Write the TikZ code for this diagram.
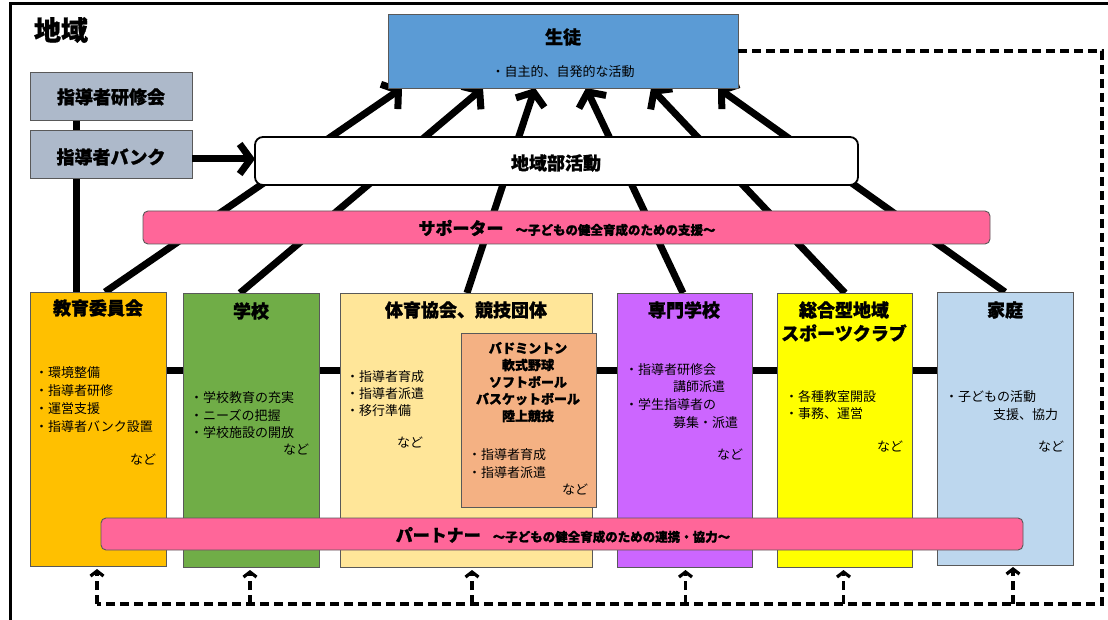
\documentclass[tikz,border=0pt]{standalone}
\usepackage{fontspec}
\setmainfont{Noto Sans CJK JP}[BoldFeatures={FakeBold=1.2}]
\usetikzlibrary{arrows.meta}
\definecolor{cSeito}{HTML}{5B9BD5}
\definecolor{cGray}{HTML}{ADB9CA}
\definecolor{cPink}{HTML}{FF6699}
\definecolor{cKyoiku}{HTML}{FFC000}
\definecolor{cGakko}{HTML}{70AD47}
\definecolor{cTaiiku}{HTML}{FFE699}
\definecolor{cKyogi}{HTML}{F4B183}
\definecolor{cSenmon}{HTML}{CC66FF}
\definecolor{cSogo}{HTML}{FFFF00}
\definecolor{cKatei}{HTML}{BDD7EE}
\definecolor{cEdge}{HTML}{595959}
\pgfdeclarelayer{background}
\pgfsetlayers{background,main}
\begin{document}
\begin{tikzpicture}[x=1pt,y=-1pt,
  box/.style={draw=cEdge, line width=0.9pt, anchor=north west, inner sep=0pt, outer sep=0pt},
  bar/.style={draw=cEdge, line width=0.9pt, fill=cPink, rounded corners=5pt, anchor=north west, inner sep=0pt, outer sep=0pt},
  thick arrow/.style={line width=7pt, -{Straight Barb[length=11pt,width=30pt]}},
  thick line/.style={line width=7pt},
  dsh/.style={line width=3.2pt, dash pattern=on 9pt off 5pt},
  dsharrow/.style={line width=3.2pt, dash pattern=on 9pt off 5pt, -{Straight Barb[length=5pt,width=13pt]}},
  tB/.style={font=\fontsize{18}{20}\selectfont\bfseries, inner sep=0pt},
  tK/.style={font=\fontsize{13}{15}\selectfont\bfseries, inner sep=0pt},
  tS/.style={font=\fontsize{13}{15}\selectfont, inner sep=0pt, anchor=west},
]
\useasboundingbox (0,0) rectangle (1108,620);
% outer frame (left and top edges visible)
\draw[line width=3pt] (10,625) -- (10,4) -- (1115,4);

% boxes
\node[box, fill=cSeito, minimum width=350pt, minimum height=74pt] (seito) at (388,14) {};
\node[box, fill=cGray, minimum width=162pt, minimum height=48pt] (kenshu) at (30,72) {};
\node[box, fill=cGray, minimum width=162pt, minimum height=48pt] (bank) at (30,130) {};
\node[box, draw=black, line width=1.8pt, fill=white, rounded corners=8pt, minimum width=603pt, minimum height=48pt] (chiiki) at (255,137) {};
\node[bar, minimum width=847pt, minimum height=33pt] (supporter) at (143,211) {};
\node[box, fill=cKyoiku, minimum width=136pt, minimum height=274pt] (kyoiku) at (30,292) {};
\node[box, fill=cGakko, minimum width=136pt, minimum height=274pt] (gakko) at (183,293) {};
\node[box, fill=cTaiiku, minimum width=252pt, minimum height=274pt] (taiiku) at (340,293) {};
\node[box, fill=cKyogi, minimum width=135pt, minimum height=174pt] (kyogi) at (461,333) {};
\node[box, fill=cSenmon, minimum width=135pt, minimum height=274pt] (senmon) at (617,293) {};
\node[box, fill=cSogo, minimum width=135pt, minimum height=274pt] (sogo) at (777,293) {};
\node[box, fill=cKatei, minimum width=136pt, minimum height=273pt] (katei) at (937,292) {};
\node[bar, minimum width=922pt, minimum height=32pt] (partner) at (101,518) {};

% connectors behind boxes
\begin{pgfonlayer}{background}
\draw[thick line] ([xshift=46pt]kenshu.south west) -- ([xshift=46pt]kyoiku.north west);
\draw[thick line] ([yshift=59pt]kyoiku.east) -- ([yshift=59pt]kyoiku.east -| katei.west);
\draw[thick arrow] ([xshift=75pt]kyoiku.north west) -- ([xshift=14pt]seito.south west);
\draw[thick arrow] ([xshift=57pt]gakko.north west) -- ([xshift=95pt]seito.south west);
\draw[thick arrow] ([xshift=127pt]taiiku.north west) -- ([xshift=147pt]seito.south west);
\draw[thick arrow] ([xshift=66pt]senmon.north west) -- ([xshift=198pt]seito.south west);
\draw[thick arrow] ([xshift=68pt]sogo.north west) -- ([xshift=263pt]seito.south west);
\draw[thick arrow] ([xshift=68pt]katei.north west) -- ([xshift=330pt]seito.south west);
\end{pgfonlayer}
\draw[thick arrow] ([yshift=-5pt]bank.east) -- ([yshift=-5pt]bank.east -| chiiki.west);

% dashed feedback loop
\coordinate (dTR) at (1102,51);
\coordinate (dBR) at (1102,604);
\draw[dsh] (seito.east) -- (seito.east -| dTR) -- (dBR) -- ([xshift=-1pt]kyoiku.south |- dBR);
\draw[dsharrow] ([xshift=-1pt]kyoiku.south |- dBR) -- ([xshift=-1pt,yshift=-3pt]kyoiku.south);
\draw[dsharrow] ([xshift=-1pt]gakko.south |- dBR) -- ([xshift=-1pt,yshift=-3pt]gakko.south);
\draw[dsharrow] ([xshift=6pt]taiiku.south |- dBR) -- ([xshift=6pt,yshift=-3pt]taiiku.south);
\draw[dsharrow] ([xshift=1pt]senmon.south |- dBR) -- ([xshift=1pt,yshift=-3pt]senmon.south);
\draw[dsharrow] ([xshift=-1pt]sogo.south |- dBR) -- ([xshift=-1pt,yshift=-3pt]sogo.south);
\draw[dsharrow] ([xshift=8pt]katei.south |- dBR) -- ([xshift=8pt,yshift=-2pt]katei.south);

% texts
\node[font=\fontsize{27}{29}\selectfont\bfseries, inner sep=0pt] (tChiikiTitle) at (61,30) {地域};
\node[tB] (tKenshu) at (111,97) {指導者研修会};
\node[tB] (tBank) at (111,157) {指導者バンク};
\node[tB] (tSeito) at (563,37) {生徒};
\node[font=\fontsize{13}{15}\selectfont, inner sep=0pt] (tSeito2) at (563,72) {・自主的、自発的な活動};
\node[tB] (tChiiki) at (556,163) {地域部活動};
\node[inner sep=0pt] (tSupporter) at (567,228) {{\fontsize{17}{20}\selectfont\bfseries サポーター}\hspace{12pt}{\fontsize{12.5}{15}\selectfont\bfseries ～子どもの健全育成のための支援～}};
\node[inner sep=0pt] (tPartner) at (563,535) {{\fontsize{17}{20}\selectfont\bfseries パートナー}\hspace{12pt}{\fontsize{12.5}{15}\selectfont\bfseries ～子どもの健全育成のための連携・協力～}};

% 教育委員会
\node[tB] (tKyoiku) at (98,308) {教育委員会};
\node[tS] (k1) at (35,373) {・環境整備};
\node[tS] (k2) at (35,391) {・指導者研修};
\node[tS] (k3) at (35,409) {・運営支援};
\node[tS] (k4) at (35,427) {・指導者バンク設置};
\node[tS] (k5) at (130,460) {など};
% 学校
\node[tB] (tGakko) at (251,311) {学校};
\node[tS] (g1) at (190,398) {・学校教育の充実};
\node[tS] (g2) at (190,416) {・ニーズの把握};
\node[tS] (g3) at (190,433) {・学校施設の開放};
\node[tS] (g4) at (283,450) {など};
% 体育協会
\node[tB] (tTaiiku) at (466,310) {体育協会、競技団体};
\node[tS] (ta1) at (346,377) {・指導者育成};
\node[tS] (ta2) at (346,394) {・指導者派遣};
\node[tS] (ta3) at (346,411) {・移行準備};
\node[tS] (ta4) at (397,443) {など};
% 競技
\node[tK] (s1) at (528,348) {バドミントン};
\node[tK] (s2) at (528,365) {軟式野球};
\node[tK] (s3) at (528,382) {ソフトボール};
\node[tK] (s4) at (528,399) {バスケットボール};
\node[tK] (s5) at (528,416) {陸上競技};
\node[tS] (s6) at (468,455) {・指導者育成};
\node[tS] (s7) at (468,473) {・指導者派遣};
\node[tS] (s8) at (562,490) {など};
% 専門学校
\node[tB] (tSenmon) at (684,310) {専門学校};
\node[tS] (m1) at (625,370) {・指導者研修会};
\node[tS] (m2) at (673,387) {講師派遣};
\node[tS] (m3) at (625,405) {・学生指導者の};
\node[tS] (m4) at (673,423) {募集・派遣};
\node[tS] (m5) at (717,455) {など};
% 総合型
\node[tB] (tSogo1) at (844,310) {総合型地域};
\node[tB] (tSogo2) at (844,333) {スポーツクラブ};
\node[tS] (o1) at (785,397) {・各種教室開設};
\node[tS] (o2) at (785,414) {・事務、運営};
\node[tS] (o3) at (877,447) {など};
% 家庭
\node[tB] (tKatei) at (1005,310) {家庭};
\node[tS] (f1) at (945,397) {・子どもの活動};
\node[tS] (f2) at (993,415) {支援、協力};
\node[tS] (f3) at (1038,447) {など};
\end{tikzpicture}
\end{document}
